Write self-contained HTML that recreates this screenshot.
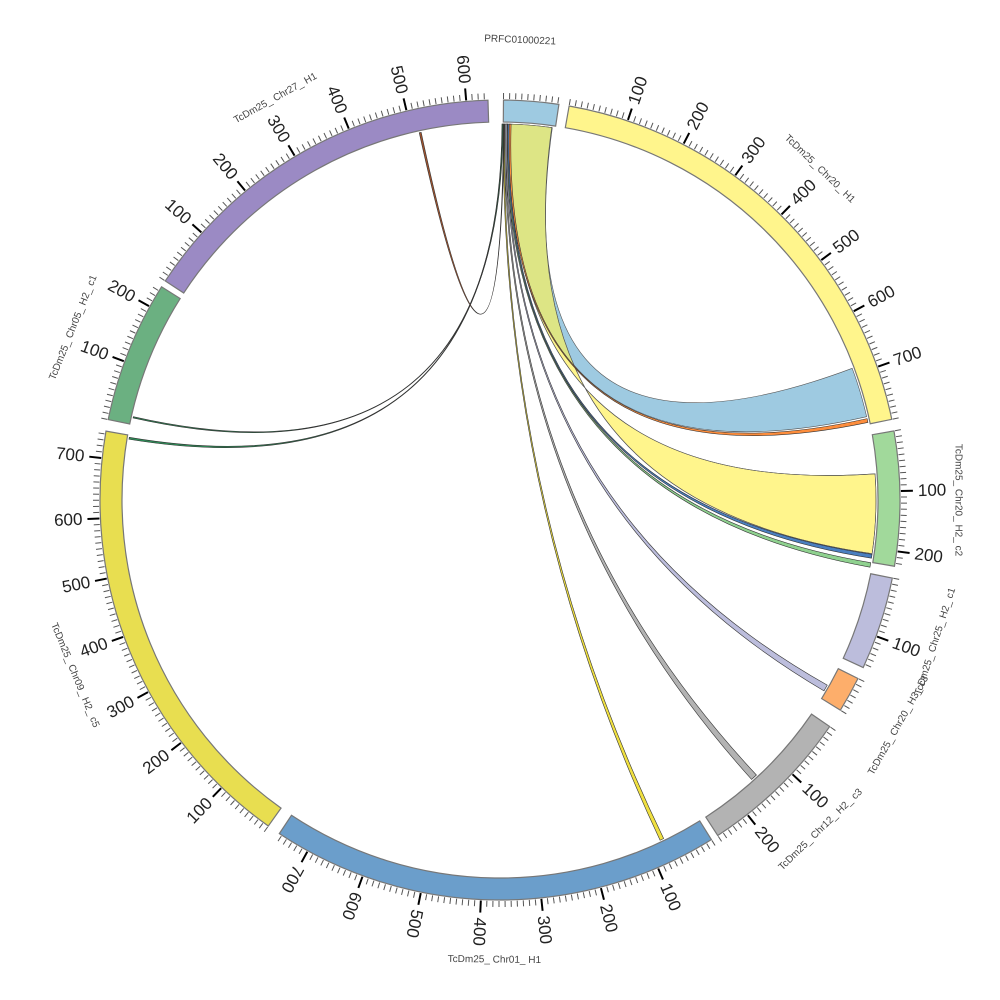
<!DOCTYPE html>
<html><head><meta charset="utf-8"><style>
html,body{margin:0;padding:0;background:#fff;}
svg{display:block;font-family:"Liberation Sans","DejaVu Sans",sans-serif;}
.l{font-size:17px;fill:#222;dominant-baseline:central;}
.n{font-size:10px;fill:#444;dominant-baseline:central;text-anchor:middle;}
</style></head><body>
<svg id="s" width="1000" height="1000" viewBox="0 0 1000 1000" xmlns="http://www.w3.org/2000/svg">
<defs><clipPath id="cy"><path id="cyp" d=""/></clipPath></defs>
<g id="links"></g>
<g id="ideo"></g>
<g id="ticks"></g>
<g id="labels">
<text class="l" text-anchor="start" transform="rotate(18.61,500,500) translate(500,82) rotate(-90)">100</text>
<text class="l" text-anchor="start" transform="rotate(27.27,500,500) translate(500,82) rotate(-90)">200</text>
<text class="l" text-anchor="start" transform="rotate(35.93,500,500) translate(500,82) rotate(-90)">300</text>
<text class="l" text-anchor="start" transform="rotate(44.59,500,500) translate(500,82) rotate(-90)">400</text>
<text class="l" text-anchor="start" transform="rotate(53.25,500,500) translate(500,82) rotate(-90)">500</text>
<text class="l" text-anchor="start" transform="rotate(61.91,500,500) translate(500,82) rotate(-90)">600</text>
<text class="l" text-anchor="start" transform="rotate(70.57,500,500) translate(500,82) rotate(-90)">700</text>
<text class="l" text-anchor="start" transform="rotate(88.71,500,500) translate(500,82) rotate(-90)">100</text>
<text class="l" text-anchor="start" transform="rotate(97.37,500,500) translate(500,82) rotate(-90)">200</text>
<text class="l" text-anchor="start" transform="rotate(109.91,500,500) translate(500,82) rotate(-90)">100</text>
<text class="l" text-anchor="start" transform="rotate(133.16,500,500) translate(500,82) rotate(-90)">100</text>
<text class="l" text-anchor="start" transform="rotate(141.82,500,500) translate(500,82) rotate(-90)">200</text>
<text class="l" text-anchor="start" transform="rotate(156.76,500,500) translate(500,82) rotate(-90)">100</text>
<text class="l" text-anchor="start" transform="rotate(165.42,500,500) translate(500,82) rotate(-90)">200</text>
<text class="l" text-anchor="start" transform="rotate(174.08,500,500) translate(500,82) rotate(-90)">300</text>
<text class="l" text-anchor="start" transform="rotate(182.74,500,500) translate(500,82) rotate(-90)">400</text>
<text class="l" text-anchor="start" transform="rotate(191.4,500,500) translate(500,82) rotate(-90)">500</text>
<text class="l" text-anchor="start" transform="rotate(200.06,500,500) translate(500,82) rotate(-90)">600</text>
<text class="l" text-anchor="start" transform="rotate(208.72,500,500) translate(500,82) rotate(-90)">700</text>
<text class="l" text-anchor="end" transform="rotate(224.06,500,500) translate(500,82) rotate(90)">100</text>
<text class="l" text-anchor="end" transform="rotate(232.72,500,500) translate(500,82) rotate(90)">200</text>
<text class="l" text-anchor="end" transform="rotate(241.38,500,500) translate(500,82) rotate(90)">300</text>
<text class="l" text-anchor="end" transform="rotate(250.04,500,500) translate(500,82) rotate(90)">400</text>
<text class="l" text-anchor="end" transform="rotate(258.7,500,500) translate(500,82) rotate(90)">500</text>
<text class="l" text-anchor="end" transform="rotate(267.36,500,500) translate(500,82) rotate(90)">600</text>
<text class="l" text-anchor="end" transform="rotate(276.02,500,500) translate(500,82) rotate(90)">700</text>
<text class="l" text-anchor="end" transform="rotate(290.26,500,500) translate(500,82) rotate(90)">100</text>
<text class="l" text-anchor="end" transform="rotate(298.92,500,500) translate(500,82) rotate(90)">200</text>
<text class="l" text-anchor="end" transform="rotate(311.86,500,500) translate(500,82) rotate(90)">100</text>
<text class="l" text-anchor="end" transform="rotate(320.52,500,500) translate(500,82) rotate(90)">200</text>
<text class="l" text-anchor="end" transform="rotate(329.18,500,500) translate(500,82) rotate(90)">300</text>
<text class="l" text-anchor="end" transform="rotate(337.84,500,500) translate(500,82) rotate(90)">400</text>
<text class="l" text-anchor="end" transform="rotate(346.5,500,500) translate(500,82) rotate(90)">500</text>
<text class="l" text-anchor="end" transform="rotate(355.16,500,500) translate(500,82) rotate(90)">600</text>
<text class="n" transform="rotate(2.5,500,500) translate(500,40)">PRFC01000221</text>
<text class="n" transform="rotate(44,500,500) translate(500,40)">TcDm25_ Chr20_ H1</text>
<text class="n" transform="rotate(90,500,500) translate(500,42)">TcDm25_ Chr20_ H2_ c2</text>
<text class="n" transform="rotate(108,500,500) translate(500,42) rotate(180)">TcDm25_ Chr25_ H2_ c1</text>
<text class="n" transform="rotate(119.5,500,500) translate(500,42) rotate(180)">TcDm25_ Chr20_ H3_ c3</text>
<text class="n" transform="rotate(135.8,500,500) translate(500,40) rotate(180)">TcDm25_ Chr12_ H2_ c3</text>
<text class="n" transform="rotate(180.7,500,500) translate(500,40) rotate(180)">TcDm25_ Chr01_ H1</text>
<text class="n" transform="rotate(247.6,500,500) translate(500,40) rotate(180)">TcDm25_ Chr09_ H2_ c5</text>
<text class="n" transform="rotate(292,500,500) translate(500,40)">TcDm25_ Chr05_ H2_ c1</text>
<text class="n" transform="rotate(330.8,500,500) translate(500,40)">TcDm25_ Chr27_ H1</text>
</g>
</svg>
<script>
var NS="http://www.w3.org/2000/svg",C=500,K=0.0866;
function P(r,a){a=a*Math.PI/180;return [C+r*Math.sin(a),C-r*Math.cos(a)];}
function el(p,t,at){var e=document.createElementNS(NS,t);for(var k in at)e.setAttribute(k,at[k]);document.getElementById(p).appendChild(e);return e;}
var segs=[[0.5,92,"#9ecae1"],[9.95,790,"#fff58c"],[80.05,225,"#a1d99b"],[101.25,156,"#bcbddc"],[116.5,60,"#fdae6b"],[124.5,260,"#b3b3b3"],[148.1,755,"#6b9ecb"],[215.4,745,"#e8de50"],[281.6,238,"#6bb081"],[303.2,636,"#9b8ac4"]];
var R1=378,R2=400;
segs.forEach(function(s){
 var a0=s[0],a1=s[0]+s[1]*K,lg=(a1-a0)>180?1:0;
 var p1=P(R2,a0),p2=P(R2,a1),p3=P(R1,a1),p4=P(R1,a0);
 el("ideo","path",{d:"M"+p1+"A"+R2+","+R2+" 0 "+lg+" 1 "+p2+"L"+p3+"A"+R1+","+R1+" 0 "+lg+" 0 "+p4+"Z",fill:s[2],stroke:"#777","stroke-width":1.2});
 for(var v=0;v<=s[1];v+=10){
  var a=a0+v*K,maj=(v%100==0&&v>0);
  var q1=P(401,a),q2=P(maj?413:407,a);
  el("ticks","line",{x1:q1[0],y1:q1[1],x2:q2[0],y2:q2[1],stroke:maj?"#000":"#555","stroke-width":maj?2:1});
 }
});
function rd(a1,a2,b1,b2){
 var r=376,p1=P(r,a1),p2=P(r,a2),q1=P(r,b1),q2=P(r,b2);
 var sa=a2>a1?1:0,sb=b2>b1?1:0;
 return "M"+p1+"A"+r+","+r+" 0 0 "+sa+" "+p2+"Q"+C+","+C+" "+q1+"A"+r+","+r+" 0 0 "+sb+" "+q2+"Q"+C+","+C+" "+p1+"Z";
}
function rib(a1,a2,b1,b2,fill,op,stroke){
 return el("links","path",{d:rd(a1,a2,b1,b2),fill:fill,"fill-opacity":op,stroke:stroke||"#333","stroke-width":0.6});
}
var blueD=rd(1.8,8.0,69.5,77.2);
rib(1.8,8.0,69.5,77.2,"#9ecae1",1,"#555");
rib(7.9,1.5,86,98.2,"#fff58c",1,"#555");
document.getElementById("cyp").setAttribute("d",rd(7.9,1.5,86,98.2));
el("links","path",{d:blueD,fill:"#dde585","clip-path":"url(#cy)"});
el("links","path",{d:rd(7.9,1.5,86,98.2),fill:"none",stroke:"#555","stroke-width":0.6});
rib(1.4,1.7,77.5,78.1,"#fd8d3c",1);
rib(1.1,1.4,98.3,98.9,"#4a7fc0",1);
rib(1.0,1.2,99.6,100.3,"#8fd18f",1);
rib(0.9,1.1,119.5,120.5,"#bcbddc",1);
rib(0.7,0.9,137.0,138.0,"#b3b3b3",1);
rib(0.5,0.7,154.2,154.8,"#f0e040",1);
rib(0.3,0.45,279.3,279.6,"#2e8b57",1);
rib(0.35,0.5,282.6,282.8,"#2e8b57",1);
rib(0.55,0.65,347.6,347.9,"#a0522d",1);
</script>
</body></html>
